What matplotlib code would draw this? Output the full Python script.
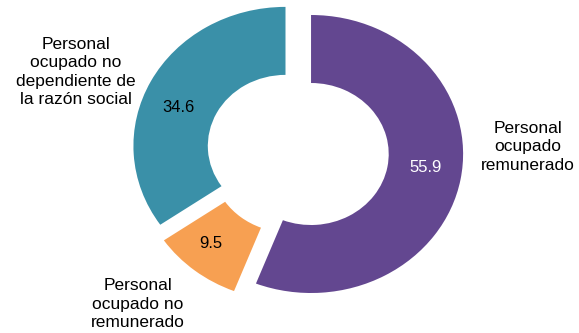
import matplotlib
matplotlib.use("Agg")
import matplotlib.pyplot as plt

# Data
categories = ["Personal\nocupado\nremunerado",
              "Personal\nocupado no\nremunerado",
              "Personal\nocupado no\ndependiente de\nla razón social"]
values = [55.9, 9.5, 34.6]
value_labels = ["55.9", "9.5", "34.6"]
colors = ["#634790", "#f7a052", "#3a90a8"]

W, H = 579, 333
xs = 1.094  # horizontal stretch of the original picture

fig = plt.figure(figsize=(W / 100, H / 100), dpi=100)
ax = fig.add_axes([0, 0, 1, 1])

R = 139
ring = 68
cx_px, cy_px = 297.6, 151.7
center = (cx_px / xs, H - cy_px)

wedges, _ = ax.pie(values, radius=R, center=center, startangle=90,
                   counterclock=False, explode=[12.5] * len(values),
                   colors=colors,
                   wedgeprops=dict(width=ring, edgecolor="none"))

ax.set_aspect("auto")
ax.set_xlim(0, W / xs)
ax.set_ylim(0, H)
ax.axis("off")

font = "Liberation Sans"

def put(xp, yp, s, **kw):
    ax.text(xp / xs, H - yp, s, ha="center", va="center", family=font, **kw)

# value labels
put(426, 168, value_labels[0], fontsize=12, color="white")
put(211, 243, value_labels[1], fontsize=12, color="black")
put(178, 107, value_labels[2], fontsize=12, color="black")

# category labels
put(528, 147, categories[0], fontsize=12.5, color="black", linespacing=1.27)
put(138, 304, categories[1], fontsize=12.5, color="black", linespacing=1.27)
put(76, 72, categories[2], fontsize=12.5, color="black", linespacing=1.27)

fig.savefig("out.png", dpi=100)
